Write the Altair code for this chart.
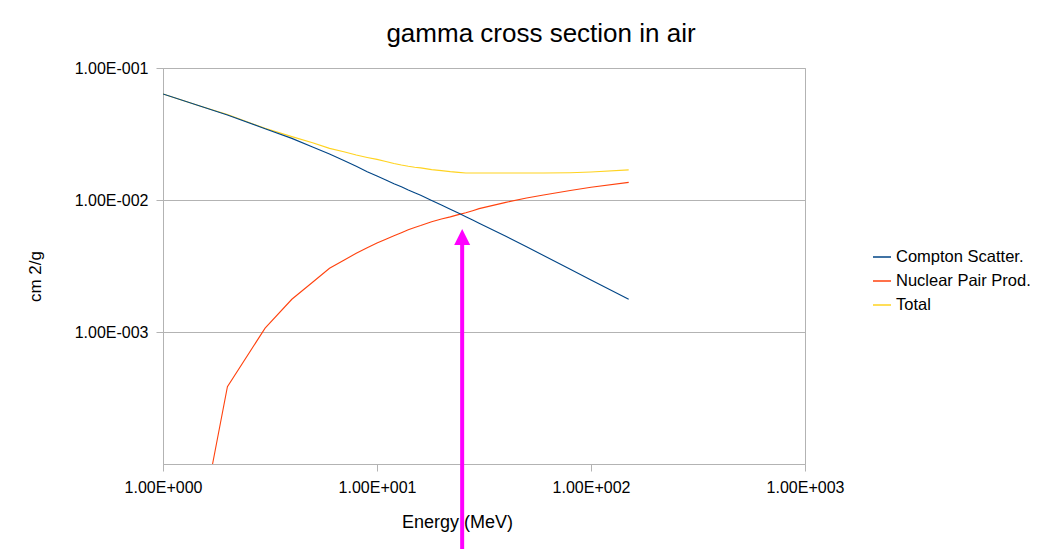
import altair as alt
import pandas as pd

# ---- data ----
energy = [1, 1.5, 2, 3, 4, 5, 6, 7, 8, 9, 10, 11, 12, 13, 14, 15, 16, 18, 20,
          22, 24, 26, 28, 30, 40, 50, 60, 80, 100, 150]
compton = [0.0635, 0.0513, 0.0441, 0.0347, 0.0293, 0.0252, 0.0223, 0.0199, 0.0180,
           0.0164, 0.0152, 0.0142, 0.0133, 0.0126, 0.0119, 0.01135, 0.01087, 0.00993,
           0.00916, 0.00851, 0.00796, 0.00747, 0.00705, 0.00668, 0.00531, 0.00443,
           0.00380, 0.00299, 0.00248, 0.00177]
pair = [None, 3.4e-5, 3.85e-4, 1.07e-3, 1.77e-3, 2.38e-3, 3.04e-3, 3.50e-3, 3.95e-3,
        4.35e-3, 4.72e-3, 5.05e-3, 5.35e-3, 5.65e-3, 5.95e-3, 6.20e-3, 6.40e-3, 6.85e-3,
        7.18e-3, 7.45e-3, 7.75e-3, 8.00e-3, 8.30e-3, 8.60e-3, 9.60e-3, 1.035e-2,
        1.09e-2, 1.18e-2, 1.25e-2, 1.36e-2]
total = [0.0636, 0.0514, 0.0445, 0.0349, 0.0302, 0.0271, 0.0246, 0.0232, 0.0219,
         0.0210, 0.0203, 0.0196, 0.0189, 0.0184, 0.0180, 0.0177, 0.0175, 0.0170,
         0.0167, 0.0164, 0.0162, 0.0160, 0.0160, 0.0160, 0.0160, 0.0160, 0.0160,
         0.0161, 0.0163, 0.0169]

series_names = ["Compton Scatter.", "Nuclear Pair Prod.", "Total"]
series_colors = ["#004586", "#ff420e", "#ffd320"]

x_ticks = [1, 10, 100, 1000]
x_tick_labels = ["1.00E+000", "1.00E+001", "1.00E+002", "1.00E+003"]
y_ticks = [1e-3, 1e-2, 1e-1]
y_tick_labels = ["1.00E-003", "1.00E-002", "1.00E-001"]

# annotation arrow (magenta) at ~25 MeV
arrow_energy = [25, 25]
arrow_shaft = [4.6e-3, 1.9e-5]
arrow_head = [5.25e-3]


def label_expr(ticks, labels, tol):
    expr = "''"
    for t, l in reversed(list(zip(ticks, labels))):
        expr = f"abs(datum.value - {t}) < {t * tol} ? '{l}' : ({expr})"
    return expr


rows = []
for name, vals in zip(series_names, [compton, pair, total]):
    for e, v in zip(energy, vals):
        if v is not None:
            rows.append({"energy": e, "value": v, "series": name})
df = pd.DataFrame(rows)

shaft_df = pd.DataFrame({"energy": [arrow_energy[0]], "y1": [arrow_shaft[0]],
                         "y2": [arrow_shaft[1]]})
head_df = pd.DataFrame({"energy": [arrow_energy[0]], "y": arrow_head})

FONT = "Liberation Sans"

x_scale = alt.Scale(type="log", domain=[1, 1000], nice=False)
y_scale = alt.Scale(type="log", domain=[1e-4, 1e-1], nice=False)
color_scale = alt.Scale(domain=series_names, range=series_colors)

x_axis = alt.Axis(values=x_ticks, labelExpr=label_expr(x_ticks, x_tick_labels, 0.01),
                  title="Energy (MeV)", grid=False, tickSize=7, labelPadding=8,
                  labelFontSize=16, labelFont=FONT, labelColor="#000000",
                  titleFont=FONT, titleFontSize=18, titleFontWeight="normal",
                  titleColor="#000000", titleX=294, titleY=63,
                  titleAlign="center", titleBaseline="alphabetic",
                  domainColor="#b3b3b3", tickColor="#b3b3b3", labelFlush=False,
                  labelOverlap=False)
y_axis = alt.Axis(values=y_ticks, labelExpr=label_expr(y_ticks, y_tick_labels, 0.01),
                  title="cm 2/g", grid=True, gridColor="#b3b3b3", tickSize=7,
                  labelPadding=8, labelFontSize=16, labelFont=FONT,
                  labelColor="#000000", titleFont=FONT, titleFontSize=17,
                  titleFontWeight="normal", titleColor="#000000", titleX=-128,
                  titleY=208, titleAngle=-90, titleAlign="center",
                  titleBaseline="middle", domainColor="#b3b3b3",
                  tickColor="#b3b3b3", labelFlush=False, labelOverlap=False)

legend = alt.Legend(title=None, orient="none", legendX=709, legendY=179,
                    symbolType="stroke", symbolSize=324, symbolStrokeWidth=1.5,
                    labelFont=FONT, labelFontSize=16.5, labelColor="#000000",
                    labelOffset=4, rowPadding=5, padding=0, values=series_names)


def series_layer(name):
    return alt.Chart(df).transform_filter(
        alt.datum.series == name
    ).mark_line(clip=True, strokeWidth=1.1).encode(
        x=alt.X("energy:Q", scale=x_scale, axis=x_axis),
        y=alt.Y("value:Q", scale=y_scale, axis=y_axis),
        color=alt.Color("series:N", scale=color_scale, legend=legend),
        order=alt.Order("energy:Q"),
    )


lines = [series_layer("Total"), series_layer("Nuclear Pair Prod."),
         series_layer("Compton Scatter.")]

shaft = alt.Chart(shaft_df).mark_rule(color="#ff00ff", strokeWidth=4, clip=False).encode(
    x=alt.X("energy:Q", scale=x_scale),
    y=alt.Y("y1:Q", scale=y_scale),
    y2="y2:Q",
)
head = alt.Chart(head_df).mark_point(
    shape="M0,-1L1,1L-1,1Z", size=256, filled=True, color="#ff00ff",
    opacity=1, strokeWidth=0, clip=False
).encode(
    x=alt.X("energy:Q", scale=x_scale),
    y=alt.Y("y:Q", scale=y_scale),
)

chart = alt.layer(*lines, shaft, head).properties(
    width=642, height=396,
    title=alt.TitleParams("gamma cross section in air", font=FONT, fontSize=26,
                          fontWeight="normal", color="#000000", anchor="middle",
                          frame="group", dx=57, dy=22, offset=14,
                          baseline="alphabetic"),
    autosize=alt.AutoSizeParams(type="none"),
    padding={"left": 155, "top": 60, "right": 232, "bottom": 85},
    background="white",
).configure_view(stroke="#b3b3b3", strokeWidth=1)

chart.save("out.html", embed_options={"renderer": "svg", "actions": False})
